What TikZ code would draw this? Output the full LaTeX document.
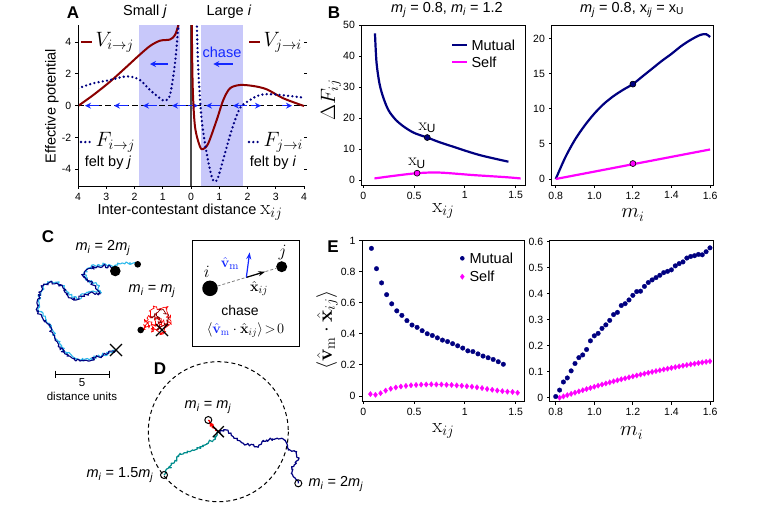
\documentclass[tikz,border=0pt]{standalone}
\usepackage{amsmath}
\usepackage[no-math]{fontspec}
\setmainfont{Liberation Sans}
\setsansfont{Liberation Sans}
\usetikzlibrary{arrows.meta,decorations.pathmorphing,plotmarks}

\definecolor{navy}{RGB}{0,0,128}
\definecolor{darkred}{RGB}{139,0,0}
\definecolor{mag}{RGB}{255,0,255}
\definecolor{lavband}{RGB}{200,200,250}
\definecolor{skyb}{RGB}{45,185,235}
\definecolor{tealw}{RGB}{0,140,140}
\definecolor{chaseb}{RGB}{20,40,255}

\newcommand{\msb}[2]{\textit{#1}\textsubscript{\textit{#2}}}

\tikzset{
  tick/.style={font=\fontsize{10.5}{12}\selectfont},
  lbl/.style={font=\fontsize{14.5}{17}\selectfont},
  mlbl/.style={font=\fontsize{22}{26}\selectfont},
  panel/.style={font=\fontsize{17}{20}\selectfont\bfseries},
  axisf/.style={line width=0.9pt},
  mutual/.style={navy, line width=2.2pt},
  selfc/.style={mag, line width=2.2pt},
  vcurve/.style={darkred, line width=2pt},
  fcurve/.style={navy, line width=2.6pt, dash pattern=on 0pt off 4.3pt, line cap=round},
  chasearr/.style={chaseb, line width=1.3pt, -{Stealth[length=6pt,width=6pt]}},
  walk/.style={line width=1.1pt, line join=round, decorate, decoration={random steps, segment length=1.5pt, amplitude=1.9pt}},
  xmark/.style={line width=1.3pt},
}

\begin{document}
\begin{tikzpicture}[x=1pt, y=-1pt,
  declare function={mutE(\x)=0.554-0.253*\x+0.709*exp(-\x/0.15);
    mutR(\x)=0.72*(1-exp(-(\x-0.8)/0.511));
    selfR(\x)=0.25*(\x-0.82)-0.09*(\x-0.82)^2;}]
\useasboundingbox (0,0) rectangle (768,504);
\pgfmathsetseed{7}

% ---------- A: effective potential
\fill[lavband] (138.7,25) rectangle (180.3,186);
\fill[lavband] (201,25) rectangle (243,186);
\draw[gray!60!black, line width=1.3pt] (191,25) -- (191,186);
\draw[line width=0.9pt, dash pattern=on 6pt off 3pt] (78,105.7) -- (304,105.7);
\foreach \h in {85,114,143,172,206,233}
  \draw[chasearr] (\h+14,105.7) -- (\h,105.7);
\foreach \h in {198,261,292}
  \draw[chasearr] (\h-10,105.7) -- (\h,105.7);
\draw[chasearr] (168,64) -- (150,64);
\draw[chasearr] (232.7,64) -- (213.3,64);
\node[lbl, text=chaseb] (chaseA) at (222,52) {chase};
\begin{scope}
  \clip (78,25) rectangle (304,186);
  \draw[vcurve] plot[smooth] coordinates {(78,106) (93.3,95) (110,81.7) (126.7,66.7) (138.3,56)
    (150,46) (160,40.7) (170,39.5) (175,35) (178.3,25) (179,18)};
  \draw[fcurve] plot[smooth] coordinates {(78,88.3) (93.3,83.3) (110,80) (122,77) (130,76.5)
    (140,80) (150,90) (160,98.3) (165,100.7) (170,95) (175,63.3) (178.3,26.7) (179,18)};
  \draw[vcurve] plot[smooth] coordinates {(191.7,18) (192.7,86.7) (195,126.7) (200,146.7)
    (203.3,149) (208.3,143.3) (216.7,120) (223.3,100) (230,88.3) (240,85) (253.3,86)
    (266.7,89.3) (283.3,98.3) (304,106)};
  \draw[fcurve] plot[smooth] coordinates {(196.7,18) (198.3,70) (201.7,120) (206.7,153.3)
    (211.7,176.7) (215,181.7) (218.3,176.7) (225,153.3) (231.7,130) (240,108) (250,100)
    (260,95) (273.3,94.3) (304,97.7)};
\end{scope}
\draw[axisf] (78,25) -- (78,186) -- (304,186);
\foreach \v in {-4,-2,...,4} {
  \draw[axisf] (78,{105.7-15.9*(\v)}) -- ++(-3,0) node[left, tick] {\v};
  \draw[axisf] (304,{105.7-15.9*(\v)}) -- ++(3,0);
}
\foreach \k/\t in {0/4,1/3,2/2,3/1,4/0,5/1,6/2,7/3,8/4}
  \draw[axisf] ({78+28.25*\k},186) -- ++(0,3) node[below, tick] {\t};
\draw[vcurve] (81,42) -- (92,42);
\node[mlbl, anchor=west] (vij) at (92,42) {$V_{i\to j}$};
\draw[fcurve] (81,142) -- (92,142);
\node[mlbl, anchor=west] (fij) at (92,142) {$F_{i\to j}$};
\node[lbl] (feltj) at (108,163) {felt by \textit{j}};
\draw[vcurve] (249,42) -- (260,42);
\node[mlbl, anchor=west] (vji) at (260,42) {$V_{j\to i}$};
\draw[fcurve] (249,142) -- (260,142);
\node[mlbl, anchor=west] (fji) at (260,142) {$F_{j\to i}$};
\node[lbl] (felti) at (273,163) {felt by \textit{i}};
\node[panel] (pA) at (73,13) {A};
\node[lbl] (small) at (145,12) {Small \textit{j}};
\node[lbl] (large) at (229,12) {Large \textit{i}};
\node[lbl, rotate=90] (ylA) at (52,106) {Effective potential};
\node[lbl] (xlA) at (190,212) {Inter-contestant distance \fontsize{20}{22}\selectfont$\mathrm{x}_{ij}$};

% ---------- B: Delta F
\node[panel] (pB) at (334,13) {B};
\node[lbl] (tB1) at (447,10) {\msb{m}{j} = 0.8, \msb{m}{i} = 1.2};
\node[lbl] (tB2) at (632,10) {\msb{m}{j} = 0.8, x\textsubscript{\textit{ij}} = x\textsubscript{U}};
\node[mlbl, rotate=90] (ylB) at (331,100) {$\Delta F_{ij}$};
\node[mlbl, inner sep=0.5pt] (xlB1) at (443.3,211) {$\mathrm{x}_{ij}$};
\node[mlbl, inner sep=0.5pt] (xlB2) at (633,215) {$m_i$};
\begin{scope}[shift={(363.3pt,-180pt)}, x=101.5pt, y=3.1pt]
  \draw[mutual] plot[smooth] coordinates {(0.115,47.3) (0.13,38) (0.16,31) (0.2,26.3) (0.25,22.4)
    (0.32,19.4) (0.4,17.2) (0.5,15.2) (0.63,13.7) (0.75,12.2) (0.88,10.8) (1.0,9.5) (1.14,8.1)
    (1.28,7) (1.43,5.9)};
  \draw[selfc] plot[smooth] coordinates {(0.11,0.5) (0.29,1.3) (0.53,2.2) (0.75,2.4) (1.08,1.6)
    (1.41,0.9) (1.55,0.5)};
  \draw[fill=navy, line width=0.6pt] (0.63,13.7) circle (3pt)
    node[above=1pt, font=\fontsize{17}{19}\selectfont] (xu1) {$\mathrm{x}_{\textsf{U}}$};
  \draw[fill=mag, line width=0.6pt] (0.53,2.2) circle (3pt)
    node[above=1pt, font=\fontsize{17}{19}\selectfont] (xu2) {$\mathrm{x}_{\textsf{U}}$};
  \draw[axisf] (-0.016,-1.6) rectangle (1.6,50);
  \foreach \v in {0,10,...,50}
    \draw[axisf] (-0.016,\v) -- ++(-3pt,0) node[left, tick] {\v};
  \foreach \v in {0,0.5,1,1.5}
    \draw[axisf] (\v,-1.6) -- ++(0,-3pt) node[below, tick] {\v};
\end{scope}
\draw[mutual, line width=2.5pt] (452,45) -- (467,45);
\node[lbl, anchor=west] (legBm) at (468,45) {Mutual};
\draw[selfc, line width=2.5pt] (452,62) -- (467,62);
\node[lbl, anchor=west] (legBs) at (468,62) {Self};
\begin{scope}[shift={(401.4pt,-179pt)}, x=192.9pt, y=7.03pt]
  \draw[mutual] plot[smooth] coordinates {(0.8,0) (0.85,3.1) (0.9,5.6) (0.95,7.6) (1.0,9.3)
    (1.05,10.7) (1.1,11.8) (1.15,12.7) (1.2,13.5) (1.25,14.6) (1.3,15.7) (1.35,16.8) (1.4,17.8)
    (1.45,18.9) (1.5,19.8) (1.55,20.5) (1.58,20.6) (1.6,20.2)};
  \draw[selfc] (0.8,0) -- (1.6,4.2);
  \draw[fill=navy, line width=0.6pt] (1.2,13.5) circle (3pt);
  \draw[fill=mag, line width=0.6pt] (1.2,2.2) circle (3pt);
  \draw[axisf] (0.779,-0.85) rectangle (1.617,21.9);
  \foreach \v in {0,5,...,20}
    \draw[axisf] (0.779,\v) -- ++(-3pt,0) node[left, tick] {\v};
  \foreach \v in {0.8,1.0,1.2,1.4,1.6}
    \draw[axisf] (\v,-0.85) -- ++(0,-3pt) node[below, tick] {\v};
\end{scope}

% ---------- C: trajectories
\node[panel] (pC) at (48,237) {C};
\node[lbl] (mC1) at (103,248) {\msb{m}{i} = 2\msb{m}{j}};
\node[lbl] (mC2) at (152,291) {\msb{m}{i} = \msb{m}{j}};
\draw[walk, skyb] (137.7,264.3) -- (130,262.5) -- (122,263) -- (116,265)
  -- (109,264.5) -- (99,264.5) -- (87,268.5) -- (84,275) -- (89,281) -- (97,285) -- (101,293)
  -- (93,291) -- (85,294) -- (77,299) -- (69,295) -- (64,287) -- (58,282) -- (51,281) -- (44,285)
  -- (41,292) -- (38,301) -- (38,309) -- (43,316) -- (49,323) -- (53,331) -- (56,339) -- (61,346)
  -- (66,353) -- (73,357) -- (81,360) -- (89,360) -- (96,357) -- (103,355) -- (110,352) -- (116,350);
\draw[walk, navy] (115.3,271) -- (108,266) -- (98,266) -- (86,270) -- (83,276)
  -- (88,282) -- (96,286) -- (100,294) -- (92,292) -- (84,295) -- (76,300) -- (68,296) -- (63,288)
  -- (57,283) -- (50,282) -- (43,286) -- (40,293) -- (37,302) -- (37,310) -- (42,317) -- (48,324)
  -- (52,332) -- (55,340) -- (60,347) -- (65,354) -- (72,358) -- (80,361) -- (88,361) -- (95,358)
  -- (102,356) -- (109,353) -- (116,350);
\fill (115.3,271) circle (5.3);
\fill (137.7,264.3) circle (3.3);
\draw[xmark] (110,344) -- (122,356) (110,356) -- (122,344);
\draw[red, line width=0.7pt, line join=round, decorate, decoration={random steps, segment length=1.5pt, amplitude=3pt}]
  (142,330) -- (147,318) -- (156,307) -- (166,309) -- (171,321) -- (163,334)
  -- (151,329) -- (157,317) -- (165,325) -- (152,322) -- cycle;
\draw[darkred, line width=0.7pt, line join=round, decorate, decoration={random steps, segment length=1.5pt, amplitude=2.5pt}]
  (152,318) -- (160,309) -- (168,314) -- (166,326) -- (158,330) -- (160,318) -- cycle;
\fill (140.7,330) circle (3.3);
\draw[xmark] (156,324) -- (168,336) (156,336) -- (168,324);
\draw[line width=1pt] (55,370.5) -- (55,378) (55,374.3) -- (109.3,374.3) (109.3,370.5) -- (109.3,378);
\node[font=\fontsize{11.5}{13}\selectfont] (five) at (82,383) {5};
\node[font=\fontsize{11.5}{13}\selectfont] (units) at (82,396) {distance units};

% inset: chase
\draw[line width=1pt] (192.7,240.7) rectangle (299,346);
\node[circle, fill, inner sep=0pt, minimum size=15.5pt] (ci) at (210,288.3) {};
\node[circle, fill, inner sep=0pt, minimum size=11pt] (cj) at (281.7,266.7) {};
\draw[gray, line width=0.8pt, dash pattern=on 3pt off 2pt] (ci) -- (cj);
\path (ci) -- (cj) coordinate[pos=0.49] (am) coordinate[pos=0.81] (ah);
\draw[line width=1.2pt, -{Stealth[length=7pt,width=5pt]}] (am) -- (ah);
\draw[chaseb, line width=1.2pt, -{Stealth[length=7pt,width=5pt]}] (am) -- ++(3.3,-25) coordinate (vt);
\node[font=\fontsize{16}{18}\selectfont] (li) at (206.7,272) {$i$};
\node[font=\fontsize{16}{18}\selectfont] (lj) at (282.7,252.3) {$j$};
\node[font=\fontsize{15}{18}\selectfont, text=chaseb] (lv) at (230,263.3) {$\hat{\mathbf{v}}_{\mathrm{m}}$};
\node[font=\fontsize{15}{18}\selectfont] (lx) at (259,288.3) {$\hat{\mathbf{x}}_{ij}$};
\node[font=\fontsize{14}{16}\selectfont] (chaseC) at (240,310) {chase};
\node[font=\fontsize{14.5}{18}\selectfont] (cond) at (245.5,330)
  {$\langle {\color{chaseb}\hat{\mathbf{v}}_{\mathrm{m}}} \cdot \hat{\mathbf{x}}_{ij} \rangle \!>\! 0$};

% ---------- D: escape circle
\node[panel] (pD) at (160,369) {D};
\draw[line width=1pt, dash pattern=on 4pt off 3pt] (218.3,431.7) circle (70);
\draw[walk, tealw, line width=1.2pt, decoration={random steps, segment length=1.6pt, amplitude=1.8pt}]
  (218.3,431.7) -- (213.3,440) -- (205,445) -- (200,446.7) -- (190,451.7)
  -- (180,453.3) -- (173.3,463.3) -- (164,475);
\draw[walk, navy, line width=1.2pt, decoration={random steps, segment length=1.6pt, amplitude=1.5pt}]
  (218.3,431.7) -- (226.7,430) -- (233.3,436.7) -- (243.3,443.3) -- (256.7,446.7)
  -- (266.7,440) -- (281.7,438.3) -- (286.7,443.3) -- (288.3,450) -- (296.7,451.7) -- (298.3,460)
  -- (291.7,466.7) -- (293.3,476.7) -- (298.3,483.3);
\draw[red, line width=1.3pt, line join=round, decorate, decoration={random steps, segment length=1.3pt, amplitude=1.8pt}]
  (208.3,420) -- (213,427) -- (210,424) -- (216,429) -- (218.3,431.7);
\draw[line width=1pt] (208.3,420) circle (3.5) (164,475) circle (3.5) (298.3,483.3) circle (3.5);
\draw[xmark] (212.8,426.2) -- (223.8,437.2) (212.8,437.2) -- (223.8,426.2);
\node[lbl] (mD1) at (208,407) {\msb{m}{i} = \msb{m}{j}};
\node[lbl, anchor=east] (mD2) at (157,475) {\msb{m}{i} = 1.5\msb{m}{j}};
\node[lbl, anchor=west] (mD3) at (305,484) {\msb{m}{i} = 2\msb{m}{j}};

% ---------- E: alignment
\node[panel] (pE) at (333,247) {E};
\node[font=\fontsize{22}{26}\selectfont, rotate=90] (ylE) at (327,330)
  {$\langle \hat{\mathbf{v}}_{\mathrm{m}} \cdot \hat{\mathbf{x}}_{ij} \rangle$};
\node[mlbl, inner sep=0.5pt] (xlE1) at (443.3,431) {$\mathrm{x}_{ij}$};
\node[mlbl, inner sep=0.5pt] (xlE2) at (631.7,433) {$m_i$};
\begin{scope}[shift={(363.3pt,-396pt)}, x=101.5pt, y=155.5pt]
  \draw[navy, fill=navy, line width=0.3pt] plot[only marks, mark=*, mark size=2.3pt,
    domain=0.08:1.38, samples=27] (\x,{mutE(\x)+0.006*rand});
  \draw[mag, fill=mag, line width=0.3pt] plot[only marks, mark=diamond*, mark size=2.7pt]
    coordinates {(0.07,0.012) (0.12,0.008) (0.17,0.018) (0.22,0.035) (0.27,0.047) (0.32,0.055)
    (0.37,0.061) (0.42,0.065) (0.47,0.069) (0.52,0.071) (0.57,0.073) (0.62,0.074) (0.67,0.075)
    (0.72,0.074) (0.77,0.074) (0.82,0.072) (0.87,0.071) (0.92,0.068) (0.97,0.066) (1.02,0.063)
    (1.07,0.06) (1.12,0.056) (1.17,0.051) (1.22,0.045) (1.27,0.04) (1.32,0.035) (1.37,0.031)
    (1.42,0.028) (1.47,0.026) (1.52,0.021)};
  \draw[axisf] (-0.01,-0.034) rectangle (1.59,1.0);
  \foreach \v in {0,0.2,0.4,0.6,0.8,1}
    \draw[axisf] (-0.01,\v) -- ++(-3pt,0) node[left, tick] {\v};
  \foreach \v in {0,0.5,1,1.5}
    \draw[axisf] (\v,-0.034) -- ++(0,-3pt) node[below, tick] {\v};
\end{scope}
\fill[navy] (462.3,258.3) circle (2.3);
\node[lbl, anchor=west] (legEm) at (466,258.3) {Mutual};
\draw[mag, fill=mag, line width=0.3pt] plot[only marks, mark=diamond*, mark size=2.7pt] coordinates {(462.3,276.7)};
\node[lbl, anchor=west] (legEs) at (466,276.7) {Self};
\begin{scope}[shift={(401.4pt,-397.7pt)}, x=192.9pt, y=260pt]
  \draw[mag, fill=mag, line width=0.3pt] plot[only marks, mark=diamond*, mark size=2.7pt,
    domain=0.82:1.6, samples=40] (\x,{selfR(\x)});
  \draw[navy, fill=navy, line width=0.3pt] plot[only marks, mark=*, mark size=2.3pt,
    domain=0.8:1.6, samples=41] (\x,{mutR(\x)+0.008*rand});
  \draw[axisf] (0.77,-0.016) rectangle (1.617,0.604);
  \foreach \v in {0,0.1,0.2,0.3,0.4,0.5,0.6}
    \draw[axisf] (0.77,\v) -- ++(-3pt,0) node[left, tick] {\v};
  \foreach \v in {0.8,1.0,1.2,1.4,1.6}
    \draw[axisf] (\v,-0.016) -- ++(0,-3pt) node[below, tick] {\v};
\end{scope}
\end{tikzpicture}
\end{document}
